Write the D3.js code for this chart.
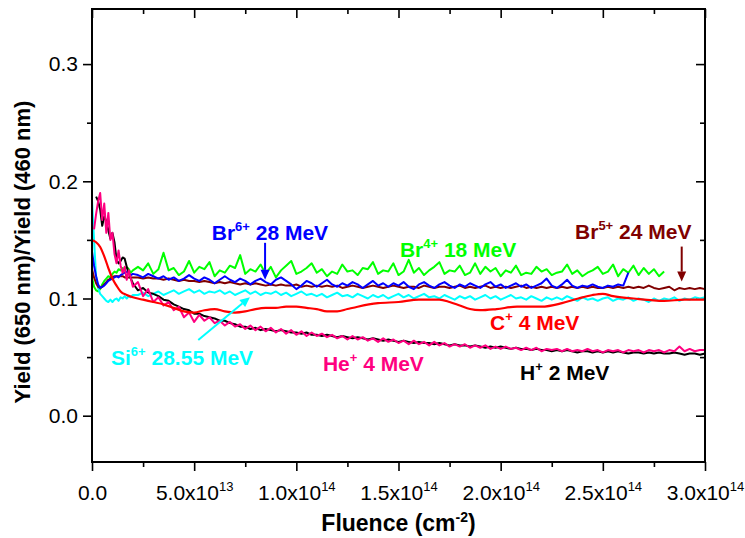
<!DOCTYPE html>
<html><head><meta charset="utf-8">
<script src="https://cdn.jsdelivr.net/npm/d3@7"></script>
<style>body{margin:0;background:#fff} svg{display:block} text{font-family:"Liberation Sans",Arial,sans-serif}</style>
</head><body><svg id="c" width="745" height="538"></svg>
<script>
// fluence sample positions, units of 1e12 cm^-2
const fluence = [0,1,2,3,4,5,6,7,8,9,10,11,12,13,14,15,16,17,18,19,20,
22.5,25,27.5,30,32.5,35,37.5,40,42.5,45,
47.5,50,52.5,55,57.5,60,62.5,65,67.5,70,
72.5,75,77.5,80,82.5,85,87.5,90,92.5,95,
97.5,100,102.5,105,107.5,110,112.5,115,117.5,120,
122.5,125,127.5,130,132.5,135,137.5,140,142.5,145,
147.5,150,152.5,155,157.5,160,162.5,165,167.5,170,
172.5,175,177.5,180,182.5,185,187.5,190,192.5,195,
197.5,200,202.5,205,207.5,210,212.5,215,217.5,220,
222.5,225,227.5,230,232.5,235,237.5,240,242.5,245,
247.5,250,252.5,255,257.5,260,262.5,265,267.5,270,
272.5,275,277.5,280,282.5,285,287.5,290,292.5,295,
297.5,300];

const hYield = [null,null,.187,.183,.176,.162,.170,.166,.158,.151,.156,.148,.133,.130,.132,.135,.134,.127,.122,.117,.113,
.107,.109,.105,.104,.102,.099,.098,.095,.093,.091,
.090,.087,.087,.085,.084,.083,.081,.081,.079,.078,
.076,.076,.074,.075,.073,.074,.073,.072,.073,.072,
.071,.071,.070,.071,.069,.069,.068,.069,.068,.067,
.068,.067,.066,.067,.066,.065,.066,.065,.064,.065,
.064,.063,.064,.063,.062,.063,.062,.062,.061,.062,
.061,.060,.061,.060,.060,.059,.060,.059,.058,.059,
.058,.059,.058,.057,.058,.057,.057,.056,.057,.056,
.056,.055,.056,.055,.056,.055,.054,.055,.055,.054,
.055,.054,.055,.054,.055,.054,.053,.054,.054,.053,
.054,.053,.054,.053,.053,.054,.053,.052,.053,.053,
.052,.053];

const heYield = [null,.159,.172,.183,.190,.167,.181,.156,.173,.150,.156,.138,.130,.141,.128,.122,.127,.116,.124,.117,.110,
.114,.102,.108,.097,.101,.094,.097,.090,.093,.084,
.088,.080,.086,.081,.084,.079,.081,.077,.080,.076,
.078,.074,.077,.073,.076,.072,.075,.071,.074,.070,
.073,.069,.072,.068,.071,.068,.070,.067,.069,.066,
.068,.065,.068,.065,.067,.064,.066,.063,.066,.063,
.065,.062,.064,.061,.064,.061,.063,.060,.063,.060,
.062,.059,.061,.059,.061,.058,.060,.058,.060,.057,
.059,.057,.059,.057,.058,.056,.058,.056,.058,.055,
.057,.056,.057,.055,.057,.055,.056,.055,.057,.055,
.056,.054,.056,.055,.056,.054,.056,.055,.056,.054,
.056,.055,.056,.054,.056,.055,.059,.055,.057,.055,
.056,.056];

const siYield = [.184,.150,.119,.109,.104,.102,.100,.098,.097,.099,.097,.099,.100,.098,.101,.100,.102,.100,.102,.101,.103,
.103,.105,.102,.104,.106,.103,.105,.107,.104,.106,
.108,.105,.107,.104,.106,.105,.107,.104,.106,.103,
.105,.107,.104,.106,.103,.105,.104,.106,.103,.105,
.102,.104,.106,.103,.104,.102,.104,.101,.103,.105,
.102,.103,.101,.104,.102,.100,.103,.101,.103,.100,
.102,.104,.101,.103,.100,.102,.104,.101,.102,.100,
.103,.101,.099,.102,.100,.102,.099,.101,.103,.100,
.102,.099,.101,.103,.100,.101,.099,.102,.100,.098,
.101,.099,.101,.099,.102,.100,.098,.101,.099,.100,
.098,.100,.101,.098,.100,.099,.101,.098,.100,.099,
.097,.100,.098,.100,.099,.101,.098,.100,.099,.101,
.100,.101];

const br4Yield = [.118,.110,.107,.106,.108,.112,.115,.117,.119,.118,.121,.123,.122,.125,.124,.126,.124,.127,.125,.122,.124,
.127,.124,.130,.121,.125,.139,.124,.126,.120,.123,
.132,.122,.127,.125,.131,.119,.124,.122,.128,.126,
.137,.121,.125,.123,.129,.121,.127,.118,.124,.128,
.132,.121,.123,.126,.130,.122,.125,.119,.123,.121,
.129,.123,.124,.120,.126,.125,.131,.121,.124,.123,
.130,.120,.123,.133,.122,.126,.120,.124,.127,.131,
.121,.124,.123,.128,.120,.122,.130,.121,.127,.123,
.126,.119,.124,.122,.128,.120,.122,.121,.127,.123,
.125,.120,.122,.123,.129,.121,.124,.119,.122,.124,
.127,.121,.123,.129,.119,.125,.122,.128,.120,.126,
.121,.125,.119,.123];

const br5Yield = [.125,.118,.113,.110,.109,.110,.112,.114,.116,.117,.118,.119,.119,.119,.119,.119,.118,.118,.118,.118,.118,
.118,.117,.118,.117,.117,.116,.117,.116,.115,.116,
.115,.115,.114,.115,.114,.113,.114,.113,.114,.113,
.112,.113,.112,.113,.112,.111,.112,.111,.112,.111,
.111,.112,.110,.111,.110,.111,.110,.111,.110,.111,
.109,.110,.111,.110,.109,.110,.111,.110,.109,.110,
.111,.110,.109,.110,.110,.109,.111,.110,.109,.110,
.110,.109,.110,.111,.109,.110,.109,.110,.111,.109,
.110,.109,.110,.109,.110,.111,.109,.110,.109,.110,
.109,.110,.109,.110,.109,.110,.109,.110,.109,.110,
.109,.109,.110,.109,.110,.109,.110,.109,.110,.109,
.111,.109,.108,.109,.110,.107,.109,.108,.109,.108,
.109,.108];

const br6Yield = [.140,.128,.119,.112,.109,.110,.111,.113,.115,.116,.117,.118,.119,.118,.120,.121,.122,.123,.121,.120,.121,
.120,.118,.121,.119,.117,.119,.116,.118,.115,.117,
.120,.117,.115,.118,.116,.113,.116,.119,.116,.114,
.117,.115,.112,.115,.117,.114,.112,.116,.118,.115,
.112,.108,.111,.115,.113,.110,.113,.116,.112,.110,
.113,.111,.114,.112,.109,.112,.115,.111,.113,.110,
.113,.111,.114,.110,.108,.112,.114,.111,.109,.112,
.114,.111,.109,.112,.110,.113,.111,.109,.112,.114,
.110,.112,.109,.111,.113,.110,.112,.109,.111,.113,
.117,.111,.109,.112,.116,.111,.109,.111,.110,.112,
.110,.109,.111,.110,.112,.111,.122];

// C+ 4 MeV (smooth curve)
const cFluence = [0,2,4,6,8,10,12,14,17,20,25,30,35,40,45,50,55,60,65,70,75,80,85,90,95,100,105,110,115,120,125,130,140,150,160,170,175,180,185,190,198,208,220,230,238,245,250,255,265,280,290,300];
const cYield = [.150,.148,.144,.136,.126,.117,.111,.106,.103,.101,.099,.097,.095,.092,.089,.088,.090,.091,.089,.088,.089,.091,.092,.092,.093,.093,.092,.091,.089,.089,.091,.093,.096,.097,.099,.099,.097,.094,.091,.090,.091,.093,.093,.096,.100,.103,.104,.102,.100,.098,.099,.099];

const xMajor = [0,5e13,1e14,1.5e14,2e14,2.5e14,3e14];
const xMinor = [2.5e13,7.5e13,1.25e14,1.75e14,2.25e14,2.75e14];
const yMajor = [0,0.1,0.2,0.3];
const yMinor = [0.05,0.15,0.25];

const svg = d3.select("#c");
const L=92,R=705,T=9,B=462;
const x = d3.scaleLinear([0,3e14],[L,R]);
const y = d3.scaleLinear([-0.0395,0.347],[B,T]);

// axes
function styleAxis(g){ g.select(".domain").remove(); g.selectAll(".tick line").attr("stroke","#000").attr("stroke-width",1.6); }
svg.append("g").attr("transform",`translate(0,${B})`).call(d3.axisBottom(x).tickValues(xMajor).tickSize(9).tickFormat(""))
  .call(styleAxis)
  .call(g=>g.selectAll(".tick").append("text").attr("fill","#000").attr("text-anchor","middle")
    .attr("y",38).style("font-size","21px")
    .each(function(d){
      const t=d3.select(this);
      if(d===0){t.text("0.0");return;}
      const e=Math.floor(Math.log10(d)+1e-9), m=d/Math.pow(10,e);
      t.append("tspan").text(m.toFixed(1)+"x10");
      t.append("tspan").attr("dy",-9).style("font-size","13px").text(e);
    }));
svg.append("g").attr("transform",`translate(0,${B})`).call(d3.axisBottom(x).tickValues(xMinor).tickSize(5).tickFormat("")).call(styleAxis);
svg.append("g").attr("transform",`translate(0,${T})`).call(d3.axisTop(x).tickValues(xMajor).tickSize(-9).tickFormat("")).call(styleAxis);
svg.append("g").attr("transform",`translate(0,${T})`).call(d3.axisTop(x).tickValues(xMinor).tickSize(-5).tickFormat("")).call(styleAxis);
svg.append("g").attr("transform",`translate(${L},0)`).call(d3.axisLeft(y).tickValues(yMajor).tickSize(9).tickPadding(5).tickFormat(d3.format(".1f")))
  .call(styleAxis).call(g=>g.selectAll(".tick text").attr("fill","#000").style("font-size","21px"));
svg.append("g").attr("transform",`translate(${L},0)`).call(d3.axisLeft(y).tickValues(yMinor).tickSize(5).tickFormat("")).call(styleAxis);
svg.append("g").attr("transform",`translate(${R},0)`).call(d3.axisRight(y).tickValues(yMajor).tickSize(-9).tickFormat("")).call(styleAxis);
svg.append("g").attr("transform",`translate(${R},0)`).call(d3.axisRight(y).tickValues(yMinor).tickSize(-5).tickFormat("")).call(styleAxis);

// series
const line = d3.line().defined(d=>d[1]!=null).x(d=>x(d[0])).y(d=>y(d[1]));
const plot = svg.append("g");
const series = [
  {v:br4Yield, c:"#00ff00"},
  {v:siYield, c:"#00ffff"},
  {v:br5Yield, c:"#800000"},
  {v:br6Yield, c:"#0000ff"},
  {v:hYield, c:"#000000"},
  {v:heYield, c:"#ff0080"}
];
series.forEach(s=>{
  plot.append("path").datum(s.v.map((v,i)=>[fluence[i]*1e12,v]))
    .attr("d",line).attr("fill","none").attr("stroke",s.c).attr("stroke-width",2).attr("stroke-linejoin","round");
});
plot.append("path").datum(cYield.map((v,i)=>[cFluence[i]*1e12,v]))
  .attr("d",line.curve(d3.curveMonotoneX)).attr("fill","none").attr("stroke","#ff0000").attr("stroke-width",2.2);

// frame
svg.append("rect").attr("x",L).attr("y",T).attr("width",R-L).attr("height",B-T).attr("fill","none").attr("stroke","#000").attr("stroke-width",2);

// annotations
function label(f,v,parts,color){
  const t=svg.append("text").attr("x",x(f)).attr("y",y(v)).attr("fill",color).style("font-size","21px").style("font-weight","bold");
  parts.forEach(p=>{
    if(p.sup){ t.append("tspan").attr("dy",-9).style("font-size","13px").text(p.sup); }
    else { t.append("tspan").attr("dy",p.after?9:0).text(p.t); }
  });
}
label(5.86e13,0.150,[{t:"Br"},{sup:"6+"},{t:" 28 MeV",after:1}],"#0000ff");
label(1.507e14,0.1358,[{t:"Br"},{sup:"4+"},{t:" 18 MeV",after:1}],"#00ff00");
label(2.364e14,0.1509,[{t:"Br"},{sup:"5+"},{t:" 24 MeV",after:1}],"#800000");
label(1.948e14,0.0732,[{t:"C"},{sup:"+"},{t:" 4 MeV",after:1}],"#ff0000");
label(2.095e14,0.0305,[{t:"H"},{sup:"+"},{t:" 2 MeV",after:1}],"#000000");
label(1.130e14,0.0382,[{t:"He"},{sup:"+"},{t:" 4 MeV",after:1}],"#ff0080");
label(0.93e13,0.0433,[{t:"Si"},{sup:"6+"},{t:" 28.55 MeV",after:1}],"#00ffff");

function arrow(f1,v1,f2,v2,color){
  const x1=x(f1),y1=y(v1),x2=x(f2),y2=y(v2);
  const a=Math.atan2(y2-y1,x2-x1), hl=10, hw=4.5;
  const bx=x2-hl*Math.cos(a), by=y2-hl*Math.sin(a);
  svg.append("line").attr("x1",x1).attr("y1",y1).attr("x2",bx).attr("y2",by).attr("stroke",color).attr("stroke-width",2);
  svg.append("polygon").attr("points",[[x2,y2],[bx+hw*Math.sin(a),by-hw*Math.cos(a)],[bx-hw*Math.sin(a),by+hw*Math.cos(a)]].map(p=>p.join(",")).join(" ")).attr("fill",color);
}
arrow(8.47e13,0.1475,8.47e13,0.1159,"#0000ff");
arrow(2.886e14,0.1443,2.886e14,0.1144,"#800000");
arrow(5.2e13,0.0646,7.73e13,0.1011,"#00ffff");

// axis titles
svg.append("text").attr("x",(L+R)/2).attr("y",531).attr("text-anchor","middle").style("font-size","23px").style("font-weight","bold")
  .call(t=>{t.append("tspan").text("Fluence (cm");t.append("tspan").attr("dy",-9).style("font-size","14px").text("-2");t.append("tspan").attr("dy",9).text(")");});
svg.append("text").attr("transform","translate(30,252) rotate(-90)").attr("text-anchor","middle").style("font-size","22px").style("font-weight","bold")
  .text("Yield (650 nm)/Yield (460 nm)");
</script></body></html>
